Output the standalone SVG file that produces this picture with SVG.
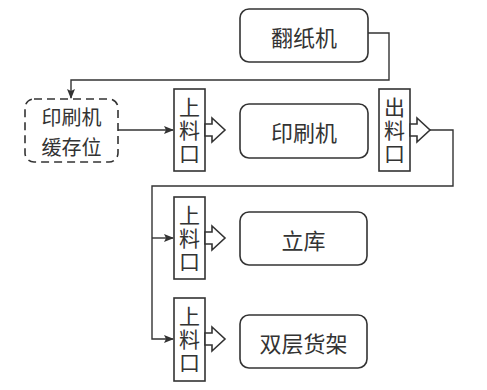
<svg xmlns="http://www.w3.org/2000/svg" width="487" height="390" viewBox="0 0 487 390">
<style>
.box{fill:#fff;stroke:#333;stroke-width:1.6}
.dash{fill:#fff;stroke:#333;stroke-width:1.6;stroke-dasharray:8 5}
.port{fill:#fff;stroke:#333;stroke-width:1.6}
.ln{fill:none;stroke:#333;stroke-width:1.4}
text{font-family:"Noto Sans CJK SC","Noto Sans CJK JP",sans-serif;font-size:22px;fill:#333;text-anchor:middle;dominant-baseline:central}
text.v{font-size:21px;writing-mode:vertical-rl;letter-spacing:2px}
text.d{font-size:20px}
</style>
<defs>
<marker id="ah" markerWidth="10" markerHeight="8" refX="9" refY="4" orient="auto" markerUnits="userSpaceOnUse">
<path d="M0,0 L10,4 L0,8 L2,4 Z" fill="#333"/>
</marker>
</defs>
<rect width="487" height="390" fill="#fff"/>
<g id="connectors">
<polyline class="ln" points="368,33 389,33 389,80 71,80 71,98" marker-end="url(#ah)"/>
<line class="ln" x1="118" y1="130" x2="173" y2="130" marker-end="url(#ah)"/>
<polyline class="ln" points="430,130 453,130 453,186 152,186 152,339 173,339" marker-end="url(#ah)"/>
<line class="ln" x1="152" y1="238" x2="173" y2="238" marker-end="url(#ah)"/>
</g>
<g id="fanzhiji">
<rect class="box" x="240" y="9" width="128" height="53" rx="9"/>
<text x="304" y="35.5">翻纸机</text>
</g>
<g id="huancunwei">
<rect class="dash" x="25" y="99" width="93" height="63" rx="9"/>
<text class="d" x="71.5" y="116.5">印刷机</text>
<text class="d" x="71.5" y="146">缓存位</text>
</g>
<g id="shangliaokou1">
<rect class="port" x="174" y="89" width="31" height="82"/>
<polygon class="port" points="205,124 212,124 212,118 225,130 212,142 212,136 205,136"/>
<text class="v" x="189.5" y="131">上料口</text>
</g>
<g id="yinshuaji">
<rect class="box" x="240" y="104" width="128" height="54" rx="9"/>
<text x="304" y="131">印刷机</text>
</g>
<g id="chuliaokou">
<rect class="port" x="379" y="89" width="31" height="82"/>
<polygon class="port" points="410,124 417,124 417,118 430,130 417,142 417,136 410,136"/>
<text class="v" x="394.5" y="131">出料口</text>
</g>
<g id="shangliaokou2">
<rect class="port" x="174" y="197" width="31" height="82"/>
<polygon class="port" points="205,232 212,232 212,226 225,238 212,250 212,244 205,244"/>
<text class="v" x="189.5" y="239">上料口</text>
</g>
<g id="liku">
<rect class="box" x="240" y="212" width="127" height="53" rx="9"/>
<text x="303.5" y="238.5">立库</text>
</g>
<g id="shangliaokou3">
<rect class="port" x="174" y="298" width="31" height="83"/>
<polygon class="port" points="205,333 212,333 212,327 225,339 212,351 212,345 205,345"/>
<text class="v" x="189.5" y="340">上料口</text>
</g>
<g id="shuangceng">
<rect class="box" x="240" y="315" width="127" height="53" rx="9"/>
<text x="303.5" y="341.5">双层货架</text>
</g>
</svg>
